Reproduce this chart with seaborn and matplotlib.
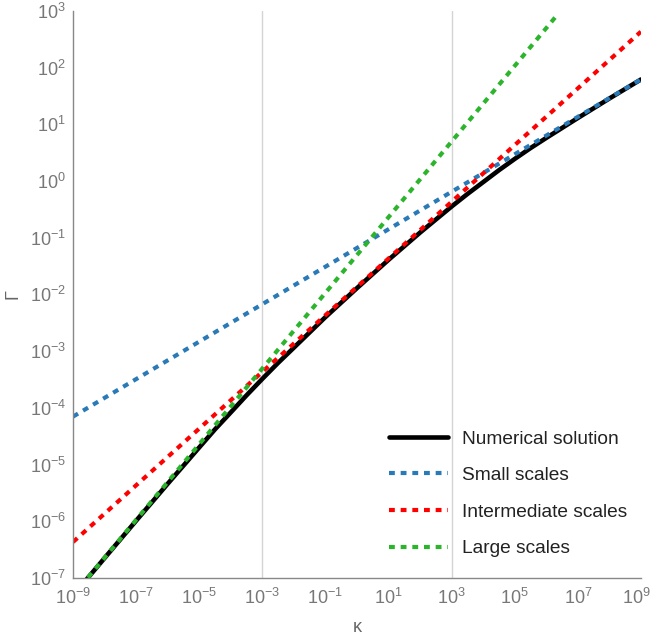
import matplotlib
matplotlib.use('Agg')
import matplotlib.pyplot as plt
import matplotlib.transforms as mtransforms
import pandas as pd
import seaborn as sns

# Numerical solution
kappa_num = [1e-9, 1e-8, 1e-7, 1e-6, 1e-5, 3.16e-5, 1e-4, 3.16e-4, 1e-3, 3.16e-3,
             1e-2, 1e-1, 1e0, 1e1, 1e2, 3.16e2, 1e3, 3.16e3, 1e4, 3.16e4, 1e5,
             3.16e5, 1e6, 1e7, 1e8, 1e9]
gamma_num = [4.9e-8, 2.24e-7, 1.02e-6, 4.57e-6, 2.0e-5, 4.17e-5, 8.3e-5, 1.66e-4,
             3.24e-4, 6.2e-4, 1.15e-3, 3.98e-3, 1.29e-2, 4.07e-2, 0.123, 0.209,
             0.355, 0.589, 0.955, 1.55, 2.45, 3.8, 5.75, 12.9, 28.5, 61.7]

# Asymptotes (straight in log-log, so end points are enough)
kappa_small = [1e-9, 1e9]
gamma_small = [7e-5, 62.0]
kappa_inter = [1e-9, 1e9]
gamma_inter = [4.3e-7, 430.0]
kappa_large = [1e-9, 2e6]
gamma_large = [4.9e-8, 790.0]

grid_kappa = [1e-3, 1e3]
x_ticks = [1e-9, 1e-7, 1e-5, 1e-3, 1e-1, 1e1, 1e3, 1e5, 1e7, 1e9]
y_ticks = [1e-7, 1e-6, 1e-5, 1e-4, 1e-3, 1e-2, 1e-1, 1e0, 1e1, 1e2, 1e3]

sns.set_style('white')
plt.rcParams['font.family'] = ['Liberation Sans', 'DejaVu Sans']

fig = plt.figure(figsize=(6.52, 6.4), dpi=100)
ax = fig.add_axes([0.112, 0.097, 0.871, 0.886])

for g in grid_kappa:
    ax.axvline(g, color='#d4d4d4', lw=1, zorder=0)

dot = (1.4, 1.4)
sns.lineplot(data=pd.DataFrame({'k': kappa_num, 'g': gamma_num}), x='k', y='g',
             ax=ax, color='black', lw=3.3, label='Numerical solution', sort=False)
sns.lineplot(data=pd.DataFrame({'k': kappa_small, 'g': gamma_small}), x='k', y='g',
             ax=ax, color='#2a7ab8', lw=3, linestyle=(0, dot),
             label='Small scales', sort=False)
sns.lineplot(data=pd.DataFrame({'k': kappa_inter, 'g': gamma_inter}), x='k', y='g',
             ax=ax, color='#ff0000', lw=3, linestyle=(0, dot),
             label='Intermediate scales', sort=False)
sns.lineplot(data=pd.DataFrame({'k': kappa_large, 'g': gamma_large}), x='k', y='g',
             ax=ax, color='#2cb52c', lw=3, linestyle=(0, dot),
             label='Large scales', sort=False)

ax.set_xscale('log')
ax.set_yscale('log')
ax.set_xlim(1e-9, 1e9)
ax.set_ylim(1e-7, 1e3)
ax.set_xticks(x_ticks)
ax.set_yticks(y_ticks)
ax.minorticks_off()

for side in ['top', 'right']:
    ax.spines[side].set_visible(False)
for side in ['left', 'bottom']:
    ax.spines[side].set_color('#888888')
    ax.spines[side].set_linewidth(1)
ax.tick_params(direction='in', length=4, width=1, color='#888888',
               labelcolor='#777777', labelsize=13)
ax.tick_params(axis='x', pad=7)
ax.tick_params(axis='y', pad=5)

# nudge the last x label so it stays inside the figure
fig.canvas.draw()
last = ax.get_xticklabels()[-1]
last.set_transform(last.get_transform() +
                   mtransforms.ScaledTranslation(-0.05, 0, fig.dpi_scale_trans))

ax.set_xlabel('κ', color='#666666', fontsize=13, labelpad=8)
ax.set_ylabel('Γ', color='#666666', fontsize=13, labelpad=6)

ax.legend(loc='lower right', bbox_to_anchor=(1.007, 0.006), frameon=False,
          fontsize=13.8, handlelength=3.1, handletextpad=0.75, labelspacing=1.0,
          labelcolor='#222222')

fig.savefig('out.png', dpi=100)
